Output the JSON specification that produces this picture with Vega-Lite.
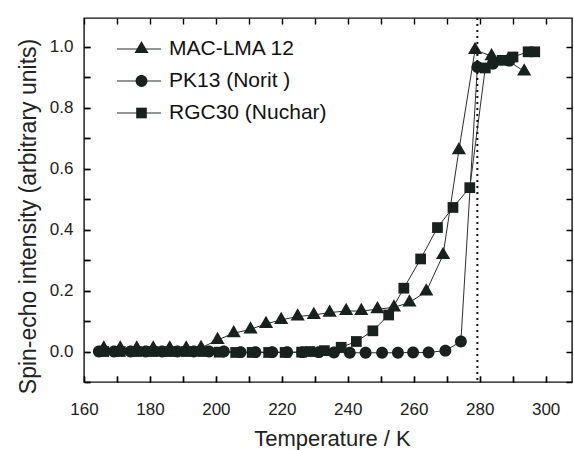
{
  "$schema": "https://vega.github.io/schema/vega-lite/v6.json",
  "width": 488,
  "height": 364,
  "autosize": "none",
  "padding": {"left": 84, "top": 18, "right": 2, "bottom": 68},
  "background": "white",
  "config": {
    "view": {"stroke": "#111", "strokeWidth": 1.4},
    "font": "Liberation Sans"
  },
  "datasets": {
    "series": [
      {"sample": "MAC-LMA 12", "T": 166, "I": 0.01},
      {"sample": "MAC-LMA 12", "T": 171, "I": 0.01},
      {"sample": "MAC-LMA 12", "T": 176, "I": 0.01},
      {"sample": "MAC-LMA 12", "T": 181, "I": 0.01},
      {"sample": "MAC-LMA 12", "T": 186, "I": 0.01},
      {"sample": "MAC-LMA 12", "T": 191, "I": 0.01},
      {"sample": "MAC-LMA 12", "T": 195.5, "I": 0.012},
      {"sample": "MAC-LMA 12", "T": 200.5, "I": 0.038},
      {"sample": "MAC-LMA 12", "T": 205.4, "I": 0.06},
      {"sample": "MAC-LMA 12", "T": 210.5, "I": 0.073},
      {"sample": "MAC-LMA 12", "T": 215.2, "I": 0.091},
      {"sample": "MAC-LMA 12", "T": 219.8, "I": 0.104},
      {"sample": "MAC-LMA 12", "T": 224.8, "I": 0.115},
      {"sample": "MAC-LMA 12", "T": 229.7, "I": 0.12},
      {"sample": "MAC-LMA 12", "T": 234.5, "I": 0.128},
      {"sample": "MAC-LMA 12", "T": 239.5, "I": 0.133},
      {"sample": "MAC-LMA 12", "T": 244.1, "I": 0.133},
      {"sample": "MAC-LMA 12", "T": 249, "I": 0.139},
      {"sample": "MAC-LMA 12", "T": 254, "I": 0.145},
      {"sample": "MAC-LMA 12", "T": 258.7, "I": 0.161},
      {"sample": "MAC-LMA 12", "T": 263.8, "I": 0.197},
      {"sample": "MAC-LMA 12", "T": 268.9, "I": 0.317},
      {"sample": "MAC-LMA 12", "T": 273.7, "I": 0.661},
      {"sample": "MAC-LMA 12", "T": 278.6, "I": 0.99},
      {"sample": "MAC-LMA 12", "T": 283.6, "I": 0.97},
      {"sample": "MAC-LMA 12", "T": 288.5, "I": 0.955},
      {"sample": "MAC-LMA 12", "T": 293.5, "I": 0.92},
      {"sample": "PK13 (Norit )", "T": 164.5, "I": 0.0},
      {"sample": "PK13 (Norit )", "T": 169.1, "I": 0.0},
      {"sample": "PK13 (Norit )", "T": 174.1, "I": 0.0},
      {"sample": "PK13 (Norit )", "T": 178.7, "I": 0.0},
      {"sample": "PK13 (Norit )", "T": 183.7, "I": 0.0},
      {"sample": "PK13 (Norit )", "T": 188.3, "I": 0.0},
      {"sample": "PK13 (Norit )", "T": 193.3, "I": 0.0},
      {"sample": "PK13 (Norit )", "T": 197.9, "I": 0.0},
      {"sample": "PK13 (Norit )", "T": 202.4, "I": 0.0},
      {"sample": "PK13 (Norit )", "T": 207.5, "I": -0.002},
      {"sample": "PK13 (Norit )", "T": 212, "I": -0.002},
      {"sample": "PK13 (Norit )", "T": 217.1, "I": -0.002},
      {"sample": "PK13 (Norit )", "T": 221.6, "I": -0.002},
      {"sample": "PK13 (Norit )", "T": 226.2, "I": -0.002},
      {"sample": "PK13 (Norit )", "T": 231.2, "I": -0.002},
      {"sample": "PK13 (Norit )", "T": 235.8, "I": -0.003},
      {"sample": "PK13 (Norit )", "T": 240.6, "I": -0.004},
      {"sample": "PK13 (Norit )", "T": 245.4, "I": -0.004},
      {"sample": "PK13 (Norit )", "T": 250.4, "I": -0.004},
      {"sample": "PK13 (Norit )", "T": 255.2, "I": -0.004},
      {"sample": "PK13 (Norit )", "T": 259.8, "I": -0.003},
      {"sample": "PK13 (Norit )", "T": 264.5, "I": -0.003},
      {"sample": "PK13 (Norit )", "T": 269.6, "I": 0.003},
      {"sample": "PK13 (Norit )", "T": 274.3, "I": 0.033},
      {"sample": "PK13 (Norit )", "T": 279.3, "I": 0.934},
      {"sample": "PK13 (Norit )", "T": 284, "I": 0.945},
      {"sample": "PK13 (Norit )", "T": 289, "I": 0.955},
      {"sample": "RGC30 (Nuchar)", "T": 166, "I": 0.0},
      {"sample": "RGC30 (Nuchar)", "T": 171, "I": 0.0},
      {"sample": "RGC30 (Nuchar)", "T": 176, "I": 0.0},
      {"sample": "RGC30 (Nuchar)", "T": 181, "I": 0.0},
      {"sample": "RGC30 (Nuchar)", "T": 186, "I": 0.0},
      {"sample": "RGC30 (Nuchar)", "T": 191, "I": 0.0},
      {"sample": "RGC30 (Nuchar)", "T": 196, "I": 0.0},
      {"sample": "RGC30 (Nuchar)", "T": 201, "I": -0.002},
      {"sample": "RGC30 (Nuchar)", "T": 206, "I": -0.003},
      {"sample": "RGC30 (Nuchar)", "T": 211, "I": -0.003},
      {"sample": "RGC30 (Nuchar)", "T": 216, "I": -0.003},
      {"sample": "RGC30 (Nuchar)", "T": 221, "I": -0.003},
      {"sample": "RGC30 (Nuchar)", "T": 226, "I": -0.002},
      {"sample": "RGC30 (Nuchar)", "T": 228.5, "I": 0.0},
      {"sample": "RGC30 (Nuchar)", "T": 232.9, "I": 0.003},
      {"sample": "RGC30 (Nuchar)", "T": 238, "I": 0.014},
      {"sample": "RGC30 (Nuchar)", "T": 242.6, "I": 0.033},
      {"sample": "RGC30 (Nuchar)", "T": 247.6, "I": 0.068},
      {"sample": "RGC30 (Nuchar)", "T": 252.4, "I": 0.12},
      {"sample": "RGC30 (Nuchar)", "T": 257, "I": 0.208},
      {"sample": "RGC30 (Nuchar)", "T": 262.1, "I": 0.304},
      {"sample": "RGC30 (Nuchar)", "T": 267.2, "I": 0.407},
      {"sample": "RGC30 (Nuchar)", "T": 271.9, "I": 0.473},
      {"sample": "RGC30 (Nuchar)", "T": 277, "I": 0.538},
      {"sample": "RGC30 (Nuchar)", "T": 281.7, "I": 0.931},
      {"sample": "RGC30 (Nuchar)", "T": 286.8, "I": 0.956},
      {"sample": "RGC30 (Nuchar)", "T": 290.1, "I": 0.967},
      {"sample": "RGC30 (Nuchar)", "T": 294.7, "I": 0.984},
      {"sample": "RGC30 (Nuchar)", "T": 296.7, "I": 0.984}
    ],
    "marker": [{"T": 279.3}]
  },
  "layer": [
    {
      "data": {"name": "series"},
      "mark": {"type": "line", "strokeWidth": 1},
      "encoding": {
        "x": {"field": "T", "type": "quantitative",
          "scale": {"domain": [160, 308], "nice": false, "zero": false},
          "axis": {"domain": false, "tickCount": 15,
            "ticks": true, "tickSize": -6, "tickColor": "#000", "tickWidth": 1.4,
            "grid": true, "gridColor": "#000", "gridWidth": 1.4, "gridOpacity": 1, "gridDash": [6, 352],
            "title": "Temperature / K", "titleFont": "Liberation Sans", "titleFontWeight": "normal", "titleColor": "#222", "titleFontSize": 22, "titleX": 248, "titleY": 63, "titleBaseline": "alphabetic",
            "labelExpr": "datum.value % 20 === 0 ? format(datum.value, 'd') : ''",
            "labelFont": "Liberation Sans", "labelColor": "#222", "labelFontSize": 17, "labelPadding": 25, "labelFlush": false, "labelOverlap": false}},
        "y": {"field": "I", "type": "quantitative",
          "scale": {"domain": [-0.1, 1.095], "nice": false, "zero": false},
          "axis": {"domain": false, "tickCount": 12,
            "ticks": true, "tickSize": -6, "tickColor": "#000", "tickWidth": 1.4,
            "grid": true, "gridColor": "#000", "gridWidth": 1.4, "gridOpacity": 1, "gridDash": [6, 476],
            "title": "Spin-echo intensity (arbitrary units)", "titleFont": "Liberation Sans", "titleFontWeight": "normal", "titleColor": "#222", "titleFontSize": 23, "titleX": -56, "titleY": 198, "titleAngle": -90, "titleAlign": "center", "titleBaseline": "middle",
            "labelExpr": "round(datum.value * 10) % 2 === 0 && datum.value > -0.05 ? format(datum.value, '.1f') : ''",
            "labelFont": "Liberation Sans", "labelColor": "#222", "labelFontSize": 17, "labelPadding": 17, "labelOverlap": false}},
        "color": {"field": "sample", "type": "nominal",
          "scale": {"range": ["#2a2f2c", "#2a2f2c", "#2a2f2c"]},
          "legend": {"orient": "none", "legendX": 32, "legendY": 20, "title": null, "padding": 0,
            "symbolType": "stroke", "symbolSize": 1936, "symbolStrokeWidth": 1.2, "symbolStrokeColor": "#2a2f2c",
            "labelFontSize": 21, "labelColor": "#111", "labelFont": "Liberation Sans", "labelOffset": 7,
            "clipHeight": 22, "rowPadding": 10}}
      }
    },
    {
      "data": {"name": "series"},
      "mark": {"type": "point", "filled": true, "opacity": 1, "color": "#17211d", "size": 200},
      "encoding": {
        "x": {"field": "T", "type": "quantitative"},
        "y": {"field": "I", "type": "quantitative"},
        "shape": {"field": "sample", "type": "nominal",
          "scale": {"domain": ["MAC-LMA 12", "PK13 (Norit )", "RGC30 (Nuchar)"],
            "range": ["M0,-1.155L1,0.577L-1,0.577Z", "M0.84,0A0.84,0.84,0,1,1,-0.84,0A0.84,0.84,0,1,1,0.84,0Z", "M-0.76,-0.76H0.76V0.76H-0.76Z"]},
          "legend": {"orient": "none", "legendX": 47, "legendY": 20, "title": null, "padding": 0,
            "symbolSize": 196, "symbolFillColor": "#17211d", "symbolStrokeColor": "#17211d", "symbolStrokeWidth": 0, "symbolOpacity": 1,
            "labelFontSize": 21, "labelExpr": "''", "labelOpacity": 0, "labelOffset": 19,
            "clipHeight": 22, "rowPadding": 10}}
      }
    },
    {
      "data": {"name": "marker"},
      "mark": {"type": "rule", "color": "#111", "strokeWidth": 2, "strokeDash": [2, 4]},
      "encoding": {
        "x": {"field": "T", "type": "quantitative"}
      }
    }
  ]
}
